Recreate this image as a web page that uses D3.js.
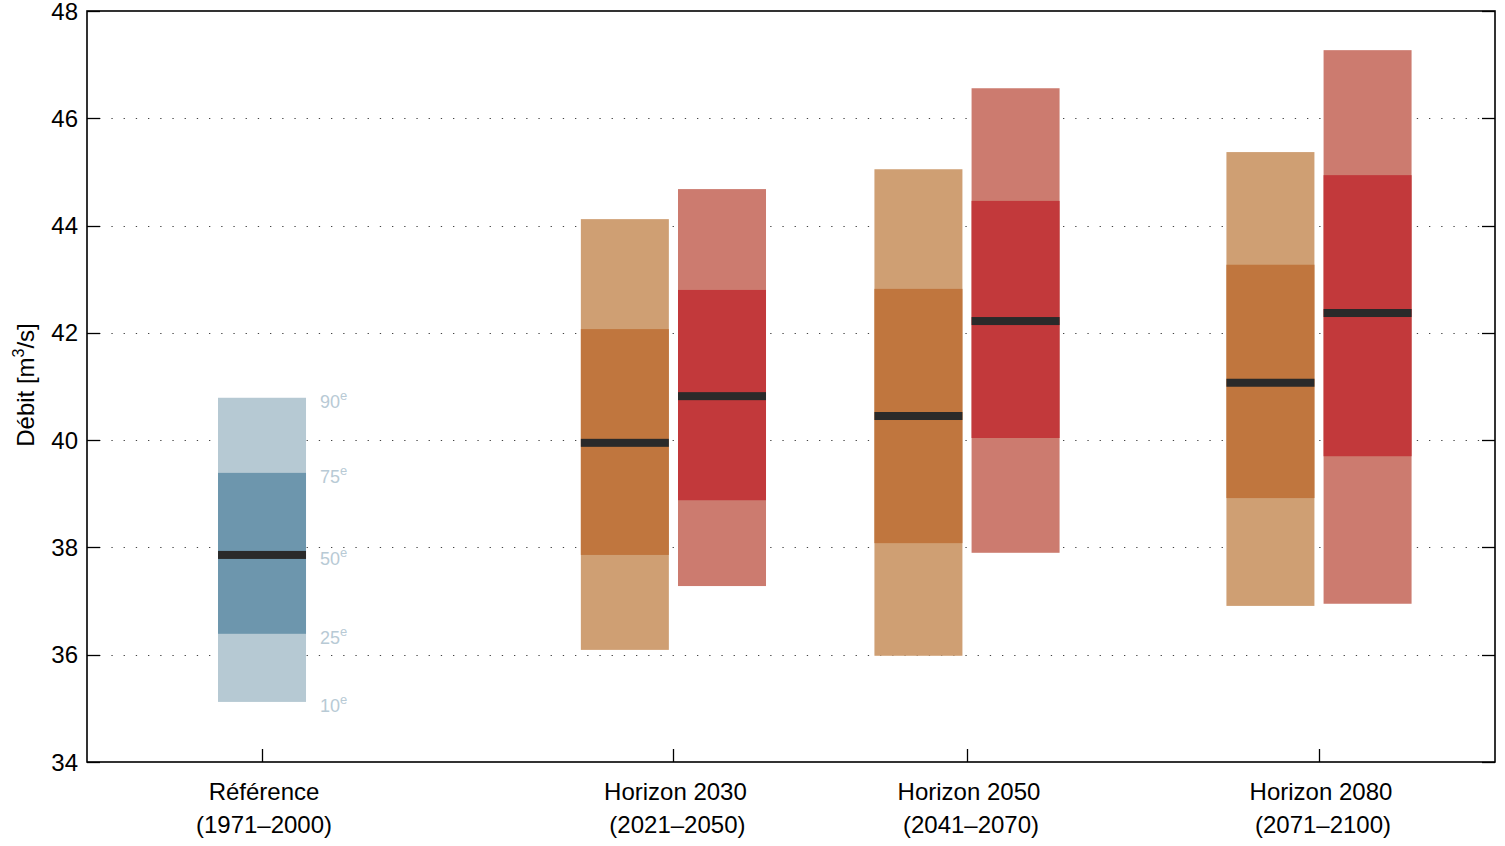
<!DOCTYPE html>
<html>
<head>
<meta charset="utf-8">
<script src="https://cdn.jsdelivr.net/npm/d3@7/dist/d3.min.js"></script>
<style>
  body { margin: 0; background: #fff; }
  svg { display: block; font-family: "Liberation Sans", Arial, Helvetica, sans-serif; }
</style>
</head>
<body>
<svg id="chart" width="1505" height="846"></svg>
<script>
// ---- data ----
const categories = ["Référence", "Horizon 2030", "Horizon 2050", "Horizon 2080"];
const periods = ["(1971\u20132000)", "(2021\u20132050)", "(2041\u20132070)", "(2071\u20132100)"];
const percentileLabels = ["10", "25", "50", "75", "90"];
// percentiles [p10, p25, p50, p75, p90]
const referenceValues = [35.12, 36.39, 37.86, 39.39, 40.79];
const scenarioAValues = [
  [36.09, 37.86, 39.95, 42.07, 44.12],
  [35.98, 38.08, 40.45, 42.82, 45.05],
  [36.91, 38.92, 41.07, 43.27, 45.37]
];
const scenarioBValues = [
  [37.28, 38.88, 40.82, 42.80, 44.68],
  [37.90, 40.04, 42.22, 44.46, 46.56],
  [36.95, 39.70, 42.37, 44.94, 47.27]
];
const yTicks = [34, 36, 38, 40, 42, 44, 46, 48];

// ---- layout ----
const plot = { left: 87, right: 1495, top: 11, bottom: 762 };
const groupPos = [1.243, 4.165, 6.25, 8.75];   // x positions in axis units
const barHalf = 0.3125;                          // half bar width (axis units)
const pairOffset = 0.345;                        // offset of paired bars

const svg = d3.select("#chart");
const x = d3.scaleLinear().domain([0, 10]).range([plot.left, plot.right]);
const y = d3.scaleLinear().domain([34, 48]).range([plot.bottom, plot.top]);

const colors = {
  ref: ["#b6c9d3", "#6d96ad"],
  a: ["#cf9f73", "#c0763e"],
  b: ["#cc7b6f", "#c2393b"],
  median: "#2a2a2a"
};

// grid (dotted)
svg.append("g").selectAll("line").data(yTicks.filter(t => t > 34 && t < 48)).join("line")
  .attr("x1", plot.left).attr("x2", plot.right)
  .attr("y1", d => Math.round(y(d)) + 0.5).attr("y2", d => Math.round(y(d)) + 0.5)
  .attr("stroke", "#444").attr("stroke-width", 1.2)
  .attr("stroke-dasharray", "1.3,10.9");

// boxes
function drawBox(vals, cx, col) {
  const g = svg.append("g");
  const x0 = x(cx - barHalf), x1 = x(cx + barHalf);
  g.append("rect").attr("x", x0).attr("width", x1 - x0)
    .attr("y", y(vals[4])).attr("height", y(vals[0]) - y(vals[4]))
    .attr("fill", col[0]);
  g.append("rect").attr("x", x0).attr("width", x1 - x0)
    .attr("y", y(vals[3])).attr("height", y(vals[1]) - y(vals[3]))
    .attr("fill", col[1]);
  g.append("rect").attr("x", x0).attr("width", x1 - x0)
    .attr("y", y(vals[2]) - 4).attr("height", 8)
    .attr("fill", colors.median);
}

drawBox(referenceValues, groupPos[0], colors.ref);
scenarioAValues.forEach((v, i) => drawBox(v, groupPos[i + 1] - pairOffset, colors.a));
scenarioBValues.forEach((v, i) => drawBox(v, groupPos[i + 1] + pairOffset, colors.b));

// percentile labels next to reference
const pl = svg.append("g").attr("fill", "#b8cad5").attr("font-size", 18);
referenceValues.forEach((v, i) => {
  const t = pl.append("text").attr("x", x(groupPos[0] + barHalf) + 14).attr("y", y(v) + 10);
  t.append("tspan").text(percentileLabels[i]);
  t.append("tspan").attr("font-size", 13).attr("dy", -8).text("e");
});

// frame
svg.append("rect").attr("x", plot.left).attr("y", plot.top)
  .attr("width", plot.right - plot.left).attr("height", plot.bottom - plot.top)
  .attr("fill", "none").attr("stroke", "#000").attr("stroke-width", 1.6);

// y ticks (left & right, inward)
const tl = 13;
const yt = svg.append("g").attr("stroke", "#000").attr("stroke-width", 1.3);
yTicks.forEach(t => {
  const yy = Math.round(y(t)) + 0.5;
  yt.append("line").attr("x1", plot.left).attr("x2", plot.left + tl).attr("y1", yy).attr("y2", yy);
  yt.append("line").attr("x1", plot.right - tl).attr("x2", plot.right).attr("y1", yy).attr("y2", yy);
});
svg.append("g").attr("font-size", 24).attr("text-anchor", "end").attr("fill", "#000")
  .selectAll("text").data(yTicks).join("text")
  .attr("x", plot.left - 9).attr("y", d => y(d) + 8.5).text(d => d);

// x ticks (bottom, inward)
const xt = svg.append("g").attr("stroke", "#000").attr("stroke-width", 1.3);
groupPos.forEach(p => {
  const xx = Math.round(x(p)) + 0.5;
  xt.append("line").attr("x1", xx).attr("x2", xx).attr("y1", plot.bottom).attr("y2", plot.bottom - tl);
});
const xl = svg.append("g").attr("font-size", 24).attr("text-anchor", "middle").attr("fill", "#000");
categories.forEach((c, i) => {
  const cx = x(groupPos[i]);
  xl.append("text").attr("x", cx + 2).attr("y", 800).text(c);
  xl.append("text").attr("x", cx + (i === 0 ? 2 : 4)).attr("y", 833).text(periods[i]);
});

// y label
const yl = svg.append("text").attr("transform", "translate(34,385) rotate(-90)")
  .attr("text-anchor", "middle").attr("font-size", 24).attr("fill", "#000");
yl.append("tspan").text("Débit [m");
yl.append("tspan").attr("font-size", 16).attr("dy", -10).text("3");
yl.append("tspan").attr("dy", 10).text("/s]");
</script>
</body>
</html>
